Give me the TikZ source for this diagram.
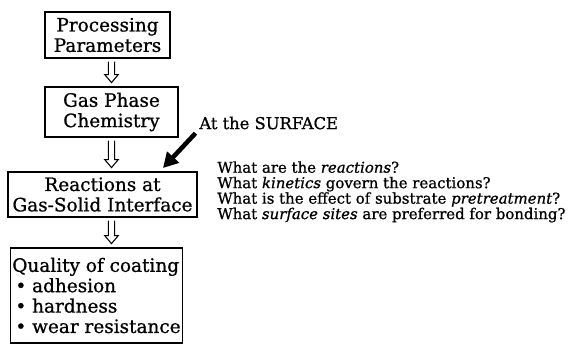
\documentclass[tikz,border=0pt]{standalone}
\usepackage{fontspec}
\setmainfont{DejaVu Serif}[RawFeature={embolden=0.8}]
\usetikzlibrary{positioning, arrows.meta, calc}
\tikzset{
  % flow box
  stagebox/.style={
    rectangle, draw=black, line width=1pt, fill=white,
    font=\fontsize{10.5}{11.6}\selectfont, align=center, inner sep=1pt
  },
  % hollow down arrow between boxes
  hollowarr/.style={
    line width=0.6pt,
    to path={let \p1=(\tikztostart), \p2=(\tikztotarget) in
      (\x1-1.8pt,\y1-1.5pt) -- (\x1-1.8pt,\y2+6.5pt) -- (\x1-3.8pt,\y2+6.5pt)
      -- (\x1,\y2+2pt) -- (\x1+3.8pt,\y2+6.5pt) -- (\x1+1.8pt,\y2+6.5pt)
      -- (\x1+1.8pt,\y1-1.5pt)}
  },
  % thick pointer
  pointer/.style={-{Triangle[length=8.5pt, width=9pt]}, line width=2.6pt},
}

\begin{document}
\begin{tikzpicture}[x=0.02cm, y=-0.02cm]
  \useasboundingbox (0,0) rectangle (584,345);
  % main column
  \node[stagebox, minimum width=2.5cm, minimum height=0.92cm] (param) at (107.5,35) {Processing\\Parameters};
  \node[stagebox, minimum width=2.66cm, minimum height=1.0cm] (gas) at (111.5,112) {Gas Phase\\Chemistry};
  \node[stagebox, minimum width=3.78cm, minimum height=0.9cm] (react) at (102.5,194.5) {Reactions at\\Gas-Solid Interface};
  \node[stagebox, minimum width=3.34cm, minimum height=1.9cm, align=left] (coat) at (96.5,295.5)
    {Quality of coating\\ \,\textbullet\ adhesion\\ \,\textbullet\ hardness\\ \,\textbullet\ wear resistance};
  \draw[hollowarr] (param.south -| gas.north) to (gas.north);
  \draw[hollowarr] (gas.south) to (react.north -| gas.south);
  \draw[hollowarr] (react.south -| gas.south) to (coat.north -| gas.south);
  % surface note
  \node[anchor=west, font=\fontsize{9.3}{10}\selectfont, inner sep=0pt] (surf) at (199,123) {At the SURFACE};
  \coordinate (hit) at (163,168);
  \draw[pointer] ([xshift=-2pt, yshift=-2pt]surf.south west) -- (hit);
  % questions
  \node[anchor=north west, align=left, inner sep=0pt,
        font=\fontsize{8.5}{8.8}\selectfont] (quest) at (217,161)
    {What are the \textit{reactions}?\\
     What \textit{kinetics} govern the reactions?\\
     What is the effect of substrate \textit{pretreatment}?\\
     What \textit{surface sites} are preferred for bonding?};
\end{tikzpicture}
\end{document}
